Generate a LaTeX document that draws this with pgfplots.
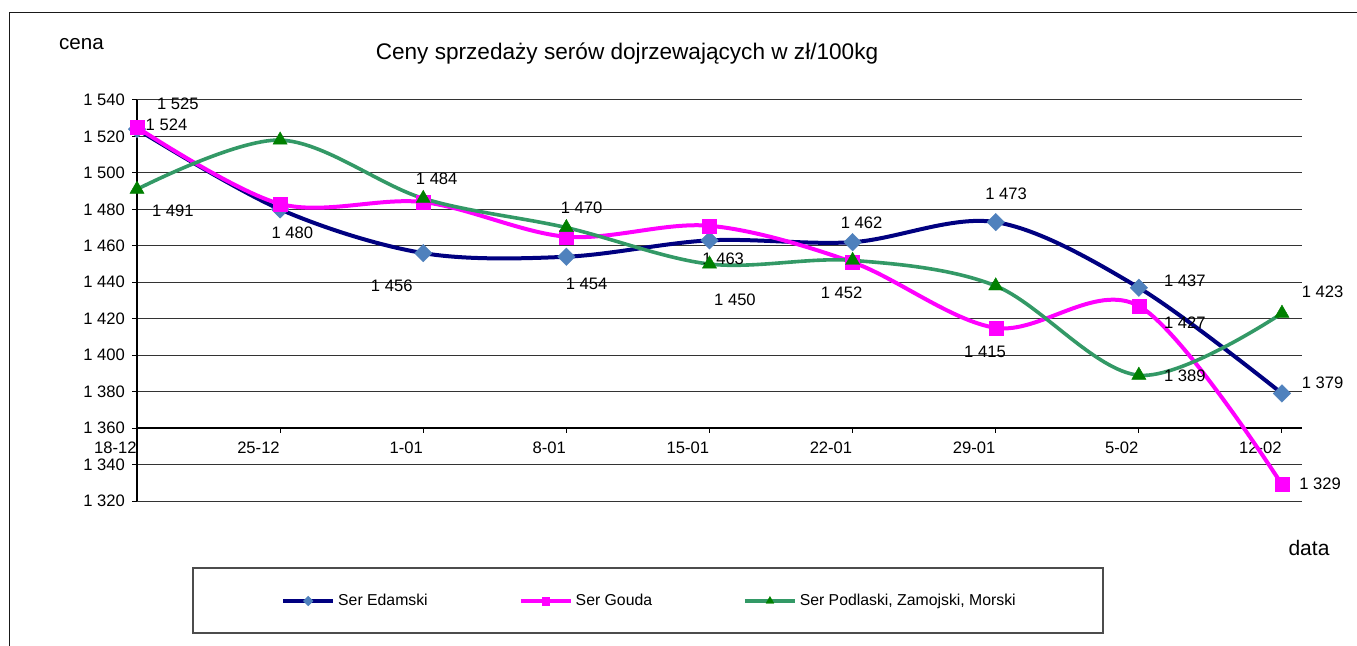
\documentclass[border=0pt]{standalone}
\usepackage{fontspec}
\setmainfont{Liberation Sans}
\usepackage{pgfplots}
\pgfplotsset{compat=1.18}
\definecolor{edam}{HTML}{000080}
\definecolor{edammark}{HTML}{4F81BD}
\definecolor{gouda}{HTML}{FF00FF}
\definecolor{podl}{HTML}{339966}
\definecolor{podlmark}{HTML}{008000}
\begin{document}
\begin{tikzpicture}
\useasboundingbox (0,0) rectangle (678.5pt,-323pt);
\fill[white] (0,0) rectangle (678.5pt,-323pt);
\draw[black!90, line width=0.7pt] (4.65pt,-323pt) -- (4.65pt,-6.35pt) -- (678.5pt,-6.35pt);
\node[anchor=base, font=\fontsize{10.3}{12}\selectfont, inner sep=0pt] at (40.75pt,-25pt) {cena};
\node[anchor=base, font=\fontsize{11.3}{13}\selectfont, inner sep=0pt] at (313.5pt,-30pt) {Ceny sprzedaży serów dojrzewających w zł/100kg};
\node[anchor=base, font=\fontsize{10.5}{12}\selectfont, inner sep=0pt] at (654.5pt,-277.8pt) {data};
\draw[black!70, line width=0.6pt] (96.5pt,-284pt) rectangle (551.5pt,-316.5pt);
\begin{axis}[
  at={(68.5pt,-250.5pt)}, anchor=south west,
  scale only axis, width=582.5pt, height=200.5pt,
  xmin=0, xmax=8.14, ymin=1320, ymax=1540,
  xtick={0,...,8},
  xticklabels={18-12,25-12,1-01,8-01,15-01,22-01,29-01,5-02,12-02},
  x tick style={draw=none},
  xticklabel style={anchor=east, inner xsep=0pt, yshift=29pt},
  ytick={1320,1340,...,1540},
  yticklabels={1 320,1 340,1 360,1 380,1 400,1 420,1 440,1 460,1 480,1 500,1 520,1 540},
  tick label style={font=\fontsize{8.3}{10}\selectfont},
  axis y line*=left, axis x line*=bottom,
  x axis line style={draw=none},
  y axis line style={black, line width=0.6pt},
  tick align=outside, major tick length=2.5pt,
  y tick style={black, line width=0.5pt},
  ymajorgrids, grid style={black!80, line width=0.5pt},
  clip=false,
  legend columns=3,
  legend style={at={(0.4403,-0.2494)}, anchor=center, draw=none, fill=none,
    font=\fontsize{7.9}{9}\selectfont,
    /tikz/every even column/.append style={column sep=44pt},
    nodes={inner xsep=1.5pt}},
  legend image code/.code={
    \draw[mark repeat=2, mark phase=2, #1, /tikz/every mark/.append style={scale=0.55}]
      plot coordinates {(0pt,0pt)(12.5pt,0pt)(25pt,0pt)};},
]
\draw[black, line width=0.6pt] (axis cs:0,1360) -- (axis cs:8.14,1360);
\pgfplotsinvokeforeach{1,...,8}{\draw[black, line width=0.5pt] (axis cs:#1,1360) -- ([yshift=-2.5pt]axis cs:#1,1360);}
\addplot[color=edam, line width=2pt, smooth, tension=0.55,
  mark=square*, mark size=3.1pt,
  mark options={solid, fill=edammark, draw=edammark, line width=0.2pt, rotate=45}]
  coordinates {(0,1524)(1,1480)(2,1456)(3,1454)(4,1463)(5,1462)(6,1473)(7,1437)(8,1379)};
\addlegendentry{Ser Edamski}
\addplot[color=gouda, line width=2pt, smooth, tension=0.55,
  mark=square*, mark size=3.5pt,
  mark options={solid, fill=gouda, draw=gouda, line width=0.2pt}]
  coordinates {(0,1525)(1,1483)(2,1484)(3,1465)(4,1471)(5,1451)(6,1415)(7,1427)(8,1329)};
\addlegendentry{Ser Gouda}
\addplot[color=podl, line width=1.8pt, smooth, tension=0.55,
  mark=triangle*, mark size=4.1pt,
  mark options={solid, fill=podlmark, draw=podlmark, line width=0.2pt}]
  coordinates {(0,1491)(1,1518)(2,1486)(3,1470)(4,1450)(5,1452)(6,1438)(7,1389)(8,1423)};
\addlegendentry{Ser Podlaski, Zamojski, Morski}
\begin{scope}[every node/.style={font=\fontsize{8.3}{10}\selectfont, inner sep=0pt, anchor=center}]
\node at (axis cs:0.286,1538) {1 525};
\node at (axis cs:0.206,1526.3) {1 524};
\node at (axis cs:0.251,1479.1) {1 491};
\node at (axis cs:1.085,1466.9) {1 480};
\node at (axis cs:2.094,1496.9) {1 484};
\node at (axis cs:1.78,1438.1) {1 456};
\node at (axis cs:3.107,1480.6) {1 470};
\node at (axis cs:3.142,1439) {1 454};
\node at (axis cs:4.096,1452.7) {1 463};
\node at (axis cs:4.178,1430.3) {1 450};
\node at (axis cs:5.063,1472.8) {1 462};
\node at (axis cs:4.923,1434.4) {1 452};
\node at (axis cs:6.072,1488.8) {1 473};
\node at (axis cs:5.925,1401.7) {1 415};
\node at (axis cs:7.322,1440.8) {1 437};
\node at (axis cs:7.322,1417.8) {1 427};
\node at (axis cs:7.322,1388.5) {1 389};
\node at (axis cs:8.284,1434.6) {1 423};
\node at (axis cs:8.284,1384.8) {1 379};
\node at (axis cs:8.266,1329.4) {1 329};
\end{scope}
\end{axis}
\end{tikzpicture}
\end{document}
